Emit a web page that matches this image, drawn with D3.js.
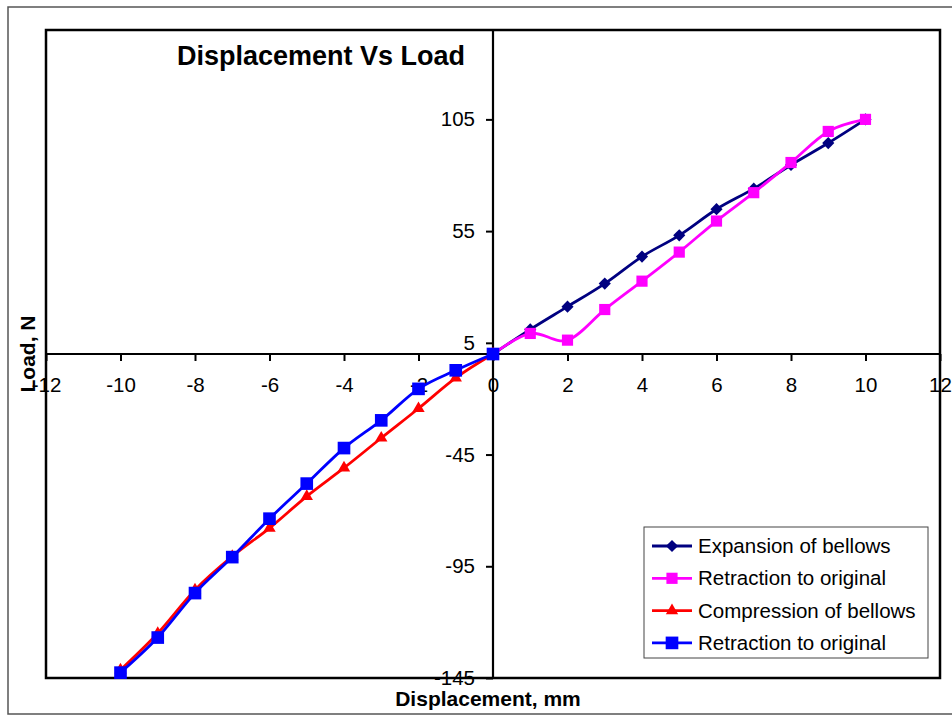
<!DOCTYPE html>
<html>
<head>
<meta charset="utf-8">
<script src="https://cdn.jsdelivr.net/npm/d3@7"></script>
<style>
  body { margin: 0; background: #fff; }
  svg { display: block; font-family: "Liberation Sans", Arial, sans-serif; }
</style>
</head>
<body>
<svg id="chart" width="952" height="715"></svg>
<script>
/* ---------- data ---------- */
const dispPos = [0, 1, 2, 3, 4, 5, 6, 7, 8, 9, 10];
const dispNeg = [0, -1, -2, -3, -4, -5, -6, -7, -8, -9, -10];
const expansion     = [0, 11.0, 21.2, 31.5, 43.6, 53.1, 64.8, 74.0, 84.6, 94.4, 105];
const retractionPos = [0, 9.2, 6.2, 19.9, 32.6, 45.6, 59.5, 72.2, 85.7, 99.6, 105];
const compression   = [0, -10.7, -24.4, -37.6, -51.0, -63.7, -77.9, -90.6, -105.6, -125.0, -141.4];
const retractionNeg = [0, -7.3, -15.6, -29.7, -42.1, -58.0, -73.7, -90.9, -107.0, -126.9, -142.6];

const xTicks = [-12, -10, -8, -6, -4, -2, 0, 2, 4, 6, 8, 10, 12];
const yTicks = [-145, -95, -45, 5, 55, 105];

const series = [
  { name: "Expansion of bellows",  xs: dispPos, ys: expansion,     color: "#000080", marker: "diamond" },
  { name: "Retraction to original", xs: dispPos, ys: retractionPos, color: "#ff00ff", marker: "square" },
  { name: "Compression of bellows", xs: dispNeg, ys: compression,   color: "#ff0000", marker: "triangle" },
  { name: "Retraction to original", xs: dispNeg, ys: retractionNeg, color: "#0000ff", marker: "bigsquare" }
];

/* ---------- layout ---------- */
const svg = d3.select("#chart");
const plot = { left: 46, right: 940, top: 30, bottom: 678 };

const x = d3.scaleLinear().domain([-12, 12]).range([plot.left, plot.right]);
const y = d3.scaleLinear().domain([-145, 145]).range([plot.bottom, plot.top]);

// excel style: plain hyphen for negatives
const plain = d => String(d);

// outer chart border
svg.append("rect")
   .attr("x", 8).attr("y", 7).attr("width", 960).attr("height", 707)
   .attr("fill", "none").attr("stroke", "#555").attr("stroke-width", 1.5);

// plot frame
svg.append("rect")
   .attr("x", plot.left).attr("y", plot.top)
   .attr("width", plot.right - plot.left).attr("height", plot.bottom - plot.top)
   .attr("fill", "none").attr("stroke", "#000").attr("stroke-width", 2.5);

/* ---------- axes through the origin ---------- */
const xAxis = svg.append("g")
  .attr("transform", `translate(0,${y(0)})`)
  .call(d3.axisBottom(x).tickValues(xTicks).tickSize(7).tickSizeOuter(0).tickPadding(16)
          .tickFormat(plain));

const yAxis = svg.append("g")
  .attr("transform", `translate(${x(0)},0)`)
  .call(d3.axisLeft(y).tickValues(yTicks).tickSize(7).tickSizeOuter(0).tickPadding(11)
          .tickFormat(plain));

[xAxis, yAxis].forEach(g => {
  g.select(".domain").remove();
  g.selectAll(".tick line").attr("stroke", "#000").attr("stroke-width", 2);
  g.selectAll(".tick text").attr("fill", "#000")
   .style("font-size", "20.5px").style("font-family", "Liberation Sans, Arial, sans-serif");
});

svg.append("line")
   .attr("x1", plot.left).attr("x2", plot.right).attr("y1", y(0)).attr("y2", y(0))
   .attr("stroke", "#000").attr("stroke-width", 2.2);
svg.append("line")
   .attr("x1", x(0)).attr("x2", x(0)).attr("y1", plot.top).attr("y2", plot.bottom)
   .attr("stroke", "#000").attr("stroke-width", 2.2);

/* ---------- titles ---------- */
svg.append("text")
   .attr("x", 321).attr("y", 65)
   .attr("text-anchor", "middle")
   .style("font-size", "27px").style("font-weight", "bold")
   .text("Displacement Vs Load");

svg.append("text")
   .attr("x", 488).attr("y", 706)
   .attr("text-anchor", "middle")
   .style("font-size", "21px").style("font-weight", "bold")
   .text("Displacement, mm");

svg.append("text")
   .attr("transform", "translate(35,354) rotate(-90)")
   .attr("text-anchor", "middle")
   .style("font-size", "21px").style("font-weight", "bold")
   .text("Load, N");

/* ---------- markers ---------- */
function markerPath(kind) {
  switch (kind) {
    case "diamond":   return d3.symbol().type(d3.symbolSquare).size(74)();
    case "square":    return d3.symbol().type(d3.symbolSquare).size(125)();
    case "bigsquare": return d3.symbol().type(d3.symbolSquare).size(160)();
    case "triangle":  return d3.symbol().type(d3.symbolTriangle).size(66)();
  }
}
function markerTransform(kind, px, py) {
  return kind === "diamond" ? `translate(${px},${py}) rotate(45)` : `translate(${px},${py})`;
}

/* ---------- series ---------- */
const line = d3.line()
  .x(d => x(d[0]))
  .y(d => y(d[1]))
  .curve(d3.curveCardinal.tension(0));

series.forEach(s => {
  const pts = s.xs.map((v, i) => [v, s.ys[i]]);
  const g = svg.append("g");
  g.append("path")
   .datum(pts)
   .attr("fill", "none")
   .attr("stroke", s.color)
   .attr("stroke-width", 2.8)
   .attr("d", line);
  g.selectAll("path.m")
   .data(pts)
   .join("path")
   .attr("class", "m")
   .attr("d", markerPath(s.marker))
   .attr("transform", d => markerTransform(s.marker, x(d[0]), y(d[1])))
   .attr("fill", s.color);
});

/* ---------- legend ---------- */
const legend = svg.append("g");
legend.append("rect")
   .attr("x", 644).attr("y", 527).attr("width", 284).attr("height", 131)
   .attr("fill", "#fff").attr("stroke", "#444").attr("stroke-width", 1);

series.forEach((s, i) => {
  const ly = 546 + i * 32.3;
  legend.append("line")
     .attr("x1", 652).attr("x2", 692).attr("y1", ly).attr("y2", ly)
     .attr("stroke", s.color).attr("stroke-width", 2.8);
  legend.append("path")
     .attr("d", markerPath(s.marker))
     .attr("transform", markerTransform(s.marker, 672, ly))
     .attr("fill", s.color);
  legend.append("text")
     .attr("x", 698).attr("y", ly).attr("dy", "0.35em")
     .style("font-size", "20.5px")
     .text(s.name);
});
</script>
</body>
</html>
